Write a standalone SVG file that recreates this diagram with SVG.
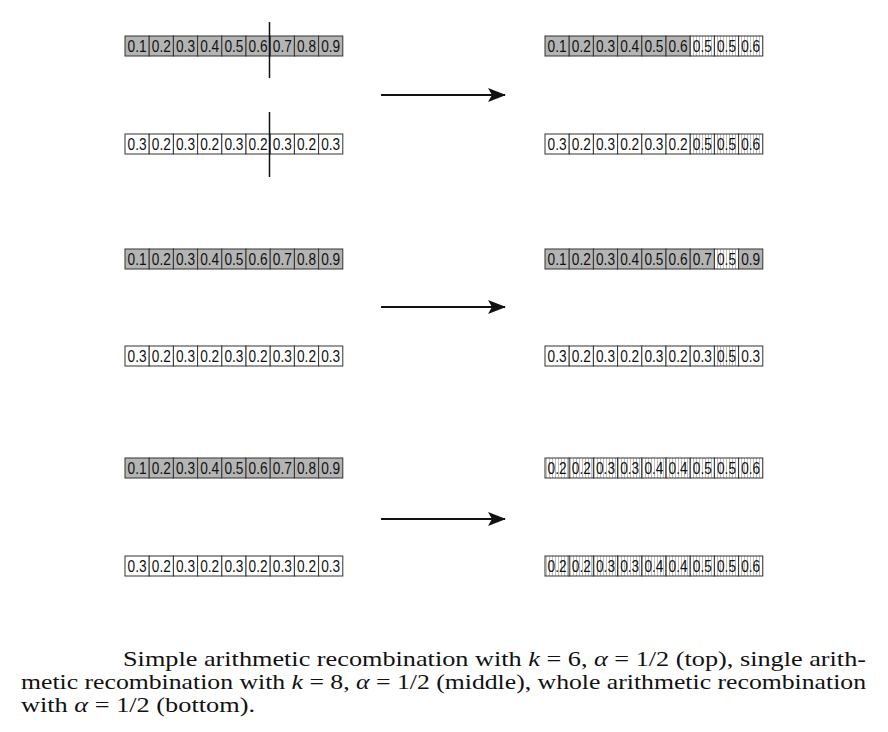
<svg xmlns="http://www.w3.org/2000/svg" width="888" height="732" viewBox="0 0 888 732">
<style>
.c{stroke:#333;stroke-width:1}
.g{fill:#b4b4b4}
.w{fill:#fff}
.h{fill:url(#hatch)}
.t{font-family:"Liberation Sans",Arial,sans-serif;font-size:16px;text-anchor:middle;fill:#111}
.cut{stroke:#111;stroke-width:1.5}
.arr{stroke:#111;stroke-width:2.2;fill:none}
.cap{font-family:"Liberation Serif","DejaVu Serif",serif;font-size:21px;fill:#111}
.m{font-style:italic}
</style>
<defs>
<pattern id="hatch" patternUnits="userSpaceOnUse" width="3" height="10">
<rect width="3" height="10" fill="#fff"/>
<line x1="1.5" y1="0" x2="1.5" y2="10" stroke="#b0b0b0" stroke-width="0.8"/>
</pattern>
<marker id="ah" markerWidth="18" markerHeight="14" refX="17" refY="7" orient="auto" markerUnits="userSpaceOnUse">
<path d="M0,0 L18,7 L0,14 L4,7 Z" fill="#111"/>
</marker>
</defs>
<rect width="888" height="732" fill="#fff"/>

<!-- TOP -->
<g id="r1-left" transform="translate(125,36)">
<rect class="c g" x="0" y="0" width="24.2" height="20"/><rect class="c g" x="24.2" y="0" width="24.2" height="20"/><rect class="c g" x="48.4" y="0" width="24.2" height="20"/><rect class="c g" x="72.6" y="0" width="24.2" height="20"/><rect class="c g" x="96.8" y="0" width="24.2" height="20"/><rect class="c g" x="121" y="0" width="24.2" height="20"/><rect class="c g" x="145.2" y="0" width="24.2" height="20"/><rect class="c g" x="169.4" y="0" width="24.2" height="20"/><rect class="c g" x="193.6" y="0" width="24.2" height="20"/>
<text class="t" x="12.1" y="15.8" textLength="19" lengthAdjust="spacingAndGlyphs">0.1</text>
<text class="t" x="36.3" y="15.8" textLength="19" lengthAdjust="spacingAndGlyphs">0.2</text>
<text class="t" x="60.5" y="15.8" textLength="19" lengthAdjust="spacingAndGlyphs">0.3</text>
<text class="t" x="84.7" y="15.8" textLength="19" lengthAdjust="spacingAndGlyphs">0.4</text>
<text class="t" x="108.9" y="15.8" textLength="19" lengthAdjust="spacingAndGlyphs">0.5</text>
<text class="t" x="133.1" y="15.8" textLength="19" lengthAdjust="spacingAndGlyphs">0.6</text>
<text class="t" x="157.3" y="15.8" textLength="19" lengthAdjust="spacingAndGlyphs">0.7</text>
<text class="t" x="181.5" y="15.8" textLength="19" lengthAdjust="spacingAndGlyphs">0.8</text>
<text class="t" x="205.7" y="15.8" textLength="19" lengthAdjust="spacingAndGlyphs">0.9</text>
</g>
<g id="r2-left" transform="translate(125,134)">
<rect class="c w" x="0" y="0" width="24.2" height="20"/><rect class="c w" x="24.2" y="0" width="24.2" height="20"/><rect class="c w" x="48.4" y="0" width="24.2" height="20"/><rect class="c w" x="72.6" y="0" width="24.2" height="20"/><rect class="c w" x="96.8" y="0" width="24.2" height="20"/><rect class="c w" x="121" y="0" width="24.2" height="20"/><rect class="c w" x="145.2" y="0" width="24.2" height="20"/><rect class="c w" x="169.4" y="0" width="24.2" height="20"/><rect class="c w" x="193.6" y="0" width="24.2" height="20"/>
<text class="t" x="12.1" y="15.8" textLength="19" lengthAdjust="spacingAndGlyphs">0.3</text>
<text class="t" x="36.3" y="15.8" textLength="19" lengthAdjust="spacingAndGlyphs">0.2</text>
<text class="t" x="60.5" y="15.8" textLength="19" lengthAdjust="spacingAndGlyphs">0.3</text>
<text class="t" x="84.7" y="15.8" textLength="19" lengthAdjust="spacingAndGlyphs">0.2</text>
<text class="t" x="108.9" y="15.8" textLength="19" lengthAdjust="spacingAndGlyphs">0.3</text>
<text class="t" x="133.1" y="15.8" textLength="19" lengthAdjust="spacingAndGlyphs">0.2</text>
<text class="t" x="157.3" y="15.8" textLength="19" lengthAdjust="spacingAndGlyphs">0.3</text>
<text class="t" x="181.5" y="15.8" textLength="19" lengthAdjust="spacingAndGlyphs">0.2</text>
<text class="t" x="205.7" y="15.8" textLength="19" lengthAdjust="spacingAndGlyphs">0.3</text>
</g>
<g id="r1-right" transform="translate(545,36)">
<rect class="c g" x="0" y="0" width="24.2" height="20"/><rect class="c g" x="24.2" y="0" width="24.2" height="20"/><rect class="c g" x="48.4" y="0" width="24.2" height="20"/><rect class="c g" x="72.6" y="0" width="24.2" height="20"/><rect class="c g" x="96.8" y="0" width="24.2" height="20"/><rect class="c g" x="121" y="0" width="24.2" height="20"/><rect class="c h" x="145.2" y="0" width="24.2" height="20"/><rect class="c h" x="169.4" y="0" width="24.2" height="20"/><rect class="c h" x="193.6" y="0" width="24.2" height="20"/>
<text class="t" x="12.1" y="15.8" textLength="19" lengthAdjust="spacingAndGlyphs">0.1</text>
<text class="t" x="36.3" y="15.8" textLength="19" lengthAdjust="spacingAndGlyphs">0.2</text>
<text class="t" x="60.5" y="15.8" textLength="19" lengthAdjust="spacingAndGlyphs">0.3</text>
<text class="t" x="84.7" y="15.8" textLength="19" lengthAdjust="spacingAndGlyphs">0.4</text>
<text class="t" x="108.9" y="15.8" textLength="19" lengthAdjust="spacingAndGlyphs">0.5</text>
<text class="t" x="133.1" y="15.8" textLength="19" lengthAdjust="spacingAndGlyphs">0.6</text>
<text class="t" x="157.3" y="15.8" textLength="19" lengthAdjust="spacingAndGlyphs">0.5</text>
<text class="t" x="181.5" y="15.8" textLength="19" lengthAdjust="spacingAndGlyphs">0.5</text>
<text class="t" x="205.7" y="15.8" textLength="19" lengthAdjust="spacingAndGlyphs">0.6</text>
</g>
<g id="r2-right" transform="translate(545,134)">
<rect class="c w" x="0" y="0" width="24.2" height="20"/><rect class="c w" x="24.2" y="0" width="24.2" height="20"/><rect class="c w" x="48.4" y="0" width="24.2" height="20"/><rect class="c w" x="72.6" y="0" width="24.2" height="20"/><rect class="c w" x="96.8" y="0" width="24.2" height="20"/><rect class="c w" x="121" y="0" width="24.2" height="20"/><rect class="c h" x="145.2" y="0" width="24.2" height="20"/><rect class="c h" x="169.4" y="0" width="24.2" height="20"/><rect class="c h" x="193.6" y="0" width="24.2" height="20"/>
<text class="t" x="12.1" y="15.8" textLength="19" lengthAdjust="spacingAndGlyphs">0.3</text>
<text class="t" x="36.3" y="15.8" textLength="19" lengthAdjust="spacingAndGlyphs">0.2</text>
<text class="t" x="60.5" y="15.8" textLength="19" lengthAdjust="spacingAndGlyphs">0.3</text>
<text class="t" x="84.7" y="15.8" textLength="19" lengthAdjust="spacingAndGlyphs">0.2</text>
<text class="t" x="108.9" y="15.8" textLength="19" lengthAdjust="spacingAndGlyphs">0.3</text>
<text class="t" x="133.1" y="15.8" textLength="19" lengthAdjust="spacingAndGlyphs">0.2</text>
<text class="t" x="157.3" y="15.8" textLength="19" lengthAdjust="spacingAndGlyphs">0.5</text>
<text class="t" x="181.5" y="15.8" textLength="19" lengthAdjust="spacingAndGlyphs">0.5</text>
<text class="t" x="205.7" y="15.8" textLength="19" lengthAdjust="spacingAndGlyphs">0.6</text>
</g>

<!-- MIDDLE -->
<g id="r3-left" transform="translate(125,249)">
<rect class="c g" x="0" y="0" width="24.2" height="20"/><rect class="c g" x="24.2" y="0" width="24.2" height="20"/><rect class="c g" x="48.4" y="0" width="24.2" height="20"/><rect class="c g" x="72.6" y="0" width="24.2" height="20"/><rect class="c g" x="96.8" y="0" width="24.2" height="20"/><rect class="c g" x="121" y="0" width="24.2" height="20"/><rect class="c g" x="145.2" y="0" width="24.2" height="20"/><rect class="c g" x="169.4" y="0" width="24.2" height="20"/><rect class="c g" x="193.6" y="0" width="24.2" height="20"/>
<text class="t" x="12.1" y="15.8" textLength="19" lengthAdjust="spacingAndGlyphs">0.1</text>
<text class="t" x="36.3" y="15.8" textLength="19" lengthAdjust="spacingAndGlyphs">0.2</text>
<text class="t" x="60.5" y="15.8" textLength="19" lengthAdjust="spacingAndGlyphs">0.3</text>
<text class="t" x="84.7" y="15.8" textLength="19" lengthAdjust="spacingAndGlyphs">0.4</text>
<text class="t" x="108.9" y="15.8" textLength="19" lengthAdjust="spacingAndGlyphs">0.5</text>
<text class="t" x="133.1" y="15.8" textLength="19" lengthAdjust="spacingAndGlyphs">0.6</text>
<text class="t" x="157.3" y="15.8" textLength="19" lengthAdjust="spacingAndGlyphs">0.7</text>
<text class="t" x="181.5" y="15.8" textLength="19" lengthAdjust="spacingAndGlyphs">0.8</text>
<text class="t" x="205.7" y="15.8" textLength="19" lengthAdjust="spacingAndGlyphs">0.9</text>
</g>
<g id="r4-left" transform="translate(125,346)">
<rect class="c w" x="0" y="0" width="24.2" height="20"/><rect class="c w" x="24.2" y="0" width="24.2" height="20"/><rect class="c w" x="48.4" y="0" width="24.2" height="20"/><rect class="c w" x="72.6" y="0" width="24.2" height="20"/><rect class="c w" x="96.8" y="0" width="24.2" height="20"/><rect class="c w" x="121" y="0" width="24.2" height="20"/><rect class="c w" x="145.2" y="0" width="24.2" height="20"/><rect class="c w" x="169.4" y="0" width="24.2" height="20"/><rect class="c w" x="193.6" y="0" width="24.2" height="20"/>
<text class="t" x="12.1" y="15.8" textLength="19" lengthAdjust="spacingAndGlyphs">0.3</text>
<text class="t" x="36.3" y="15.8" textLength="19" lengthAdjust="spacingAndGlyphs">0.2</text>
<text class="t" x="60.5" y="15.8" textLength="19" lengthAdjust="spacingAndGlyphs">0.3</text>
<text class="t" x="84.7" y="15.8" textLength="19" lengthAdjust="spacingAndGlyphs">0.2</text>
<text class="t" x="108.9" y="15.8" textLength="19" lengthAdjust="spacingAndGlyphs">0.3</text>
<text class="t" x="133.1" y="15.8" textLength="19" lengthAdjust="spacingAndGlyphs">0.2</text>
<text class="t" x="157.3" y="15.8" textLength="19" lengthAdjust="spacingAndGlyphs">0.3</text>
<text class="t" x="181.5" y="15.8" textLength="19" lengthAdjust="spacingAndGlyphs">0.2</text>
<text class="t" x="205.7" y="15.8" textLength="19" lengthAdjust="spacingAndGlyphs">0.3</text>
</g>
<g id="r3-right" transform="translate(545,249)">
<rect class="c g" x="0" y="0" width="24.2" height="20"/><rect class="c g" x="24.2" y="0" width="24.2" height="20"/><rect class="c g" x="48.4" y="0" width="24.2" height="20"/><rect class="c g" x="72.6" y="0" width="24.2" height="20"/><rect class="c g" x="96.8" y="0" width="24.2" height="20"/><rect class="c g" x="121" y="0" width="24.2" height="20"/><rect class="c g" x="145.2" y="0" width="24.2" height="20"/><rect class="c h" x="169.4" y="0" width="24.2" height="20"/><rect class="c g" x="193.6" y="0" width="24.2" height="20"/>
<text class="t" x="12.1" y="15.8" textLength="19" lengthAdjust="spacingAndGlyphs">0.1</text>
<text class="t" x="36.3" y="15.8" textLength="19" lengthAdjust="spacingAndGlyphs">0.2</text>
<text class="t" x="60.5" y="15.8" textLength="19" lengthAdjust="spacingAndGlyphs">0.3</text>
<text class="t" x="84.7" y="15.8" textLength="19" lengthAdjust="spacingAndGlyphs">0.4</text>
<text class="t" x="108.9" y="15.8" textLength="19" lengthAdjust="spacingAndGlyphs">0.5</text>
<text class="t" x="133.1" y="15.8" textLength="19" lengthAdjust="spacingAndGlyphs">0.6</text>
<text class="t" x="157.3" y="15.8" textLength="19" lengthAdjust="spacingAndGlyphs">0.7</text>
<text class="t" x="181.5" y="15.8" textLength="19" lengthAdjust="spacingAndGlyphs">0.5</text>
<text class="t" x="205.7" y="15.8" textLength="19" lengthAdjust="spacingAndGlyphs">0.9</text>
</g>
<g id="r4-right" transform="translate(545,346)">
<rect class="c w" x="0" y="0" width="24.2" height="20"/><rect class="c w" x="24.2" y="0" width="24.2" height="20"/><rect class="c w" x="48.4" y="0" width="24.2" height="20"/><rect class="c w" x="72.6" y="0" width="24.2" height="20"/><rect class="c w" x="96.8" y="0" width="24.2" height="20"/><rect class="c w" x="121" y="0" width="24.2" height="20"/><rect class="c w" x="145.2" y="0" width="24.2" height="20"/><rect class="c h" x="169.4" y="0" width="24.2" height="20"/><rect class="c w" x="193.6" y="0" width="24.2" height="20"/>
<text class="t" x="12.1" y="15.8" textLength="19" lengthAdjust="spacingAndGlyphs">0.3</text>
<text class="t" x="36.3" y="15.8" textLength="19" lengthAdjust="spacingAndGlyphs">0.2</text>
<text class="t" x="60.5" y="15.8" textLength="19" lengthAdjust="spacingAndGlyphs">0.3</text>
<text class="t" x="84.7" y="15.8" textLength="19" lengthAdjust="spacingAndGlyphs">0.2</text>
<text class="t" x="108.9" y="15.8" textLength="19" lengthAdjust="spacingAndGlyphs">0.3</text>
<text class="t" x="133.1" y="15.8" textLength="19" lengthAdjust="spacingAndGlyphs">0.2</text>
<text class="t" x="157.3" y="15.8" textLength="19" lengthAdjust="spacingAndGlyphs">0.3</text>
<text class="t" x="181.5" y="15.8" textLength="19" lengthAdjust="spacingAndGlyphs">0.5</text>
<text class="t" x="205.7" y="15.8" textLength="19" lengthAdjust="spacingAndGlyphs">0.3</text>
</g>

<!-- BOTTOM -->
<g id="r5-left" transform="translate(125,458)">
<rect class="c g" x="0" y="0" width="24.2" height="20"/><rect class="c g" x="24.2" y="0" width="24.2" height="20"/><rect class="c g" x="48.4" y="0" width="24.2" height="20"/><rect class="c g" x="72.6" y="0" width="24.2" height="20"/><rect class="c g" x="96.8" y="0" width="24.2" height="20"/><rect class="c g" x="121" y="0" width="24.2" height="20"/><rect class="c g" x="145.2" y="0" width="24.2" height="20"/><rect class="c g" x="169.4" y="0" width="24.2" height="20"/><rect class="c g" x="193.6" y="0" width="24.2" height="20"/>
<text class="t" x="12.1" y="15.8" textLength="19" lengthAdjust="spacingAndGlyphs">0.1</text>
<text class="t" x="36.3" y="15.8" textLength="19" lengthAdjust="spacingAndGlyphs">0.2</text>
<text class="t" x="60.5" y="15.8" textLength="19" lengthAdjust="spacingAndGlyphs">0.3</text>
<text class="t" x="84.7" y="15.8" textLength="19" lengthAdjust="spacingAndGlyphs">0.4</text>
<text class="t" x="108.9" y="15.8" textLength="19" lengthAdjust="spacingAndGlyphs">0.5</text>
<text class="t" x="133.1" y="15.8" textLength="19" lengthAdjust="spacingAndGlyphs">0.6</text>
<text class="t" x="157.3" y="15.8" textLength="19" lengthAdjust="spacingAndGlyphs">0.7</text>
<text class="t" x="181.5" y="15.8" textLength="19" lengthAdjust="spacingAndGlyphs">0.8</text>
<text class="t" x="205.7" y="15.8" textLength="19" lengthAdjust="spacingAndGlyphs">0.9</text>
</g>
<g id="r6-left" transform="translate(125,556)">
<rect class="c w" x="0" y="0" width="24.2" height="20"/><rect class="c w" x="24.2" y="0" width="24.2" height="20"/><rect class="c w" x="48.4" y="0" width="24.2" height="20"/><rect class="c w" x="72.6" y="0" width="24.2" height="20"/><rect class="c w" x="96.8" y="0" width="24.2" height="20"/><rect class="c w" x="121" y="0" width="24.2" height="20"/><rect class="c w" x="145.2" y="0" width="24.2" height="20"/><rect class="c w" x="169.4" y="0" width="24.2" height="20"/><rect class="c w" x="193.6" y="0" width="24.2" height="20"/>
<text class="t" x="12.1" y="15.8" textLength="19" lengthAdjust="spacingAndGlyphs">0.3</text>
<text class="t" x="36.3" y="15.8" textLength="19" lengthAdjust="spacingAndGlyphs">0.2</text>
<text class="t" x="60.5" y="15.8" textLength="19" lengthAdjust="spacingAndGlyphs">0.3</text>
<text class="t" x="84.7" y="15.8" textLength="19" lengthAdjust="spacingAndGlyphs">0.2</text>
<text class="t" x="108.9" y="15.8" textLength="19" lengthAdjust="spacingAndGlyphs">0.3</text>
<text class="t" x="133.1" y="15.8" textLength="19" lengthAdjust="spacingAndGlyphs">0.2</text>
<text class="t" x="157.3" y="15.8" textLength="19" lengthAdjust="spacingAndGlyphs">0.3</text>
<text class="t" x="181.5" y="15.8" textLength="19" lengthAdjust="spacingAndGlyphs">0.2</text>
<text class="t" x="205.7" y="15.8" textLength="19" lengthAdjust="spacingAndGlyphs">0.3</text>
</g>
<g id="r5-right" transform="translate(545,458)">
<rect class="c h" x="0" y="0" width="24.2" height="20"/><rect class="c h" x="24.2" y="0" width="24.2" height="20"/><rect class="c h" x="48.4" y="0" width="24.2" height="20"/><rect class="c h" x="72.6" y="0" width="24.2" height="20"/><rect class="c h" x="96.8" y="0" width="24.2" height="20"/><rect class="c h" x="121" y="0" width="24.2" height="20"/><rect class="c h" x="145.2" y="0" width="24.2" height="20"/><rect class="c h" x="169.4" y="0" width="24.2" height="20"/><rect class="c h" x="193.6" y="0" width="24.2" height="20"/>
<text class="t" x="12.1" y="15.8" textLength="19" lengthAdjust="spacingAndGlyphs">0.2</text>
<text class="t" x="36.3" y="15.8" textLength="19" lengthAdjust="spacingAndGlyphs">0.2</text>
<text class="t" x="60.5" y="15.8" textLength="19" lengthAdjust="spacingAndGlyphs">0.3</text>
<text class="t" x="84.7" y="15.8" textLength="19" lengthAdjust="spacingAndGlyphs">0.3</text>
<text class="t" x="108.9" y="15.8" textLength="19" lengthAdjust="spacingAndGlyphs">0.4</text>
<text class="t" x="133.1" y="15.8" textLength="19" lengthAdjust="spacingAndGlyphs">0.4</text>
<text class="t" x="157.3" y="15.8" textLength="19" lengthAdjust="spacingAndGlyphs">0.5</text>
<text class="t" x="181.5" y="15.8" textLength="19" lengthAdjust="spacingAndGlyphs">0.5</text>
<text class="t" x="205.7" y="15.8" textLength="19" lengthAdjust="spacingAndGlyphs">0.6</text>
</g>
<g id="r6-right" transform="translate(545,556)">
<rect class="c h" x="0" y="0" width="24.2" height="20"/><rect class="c h" x="24.2" y="0" width="24.2" height="20"/><rect class="c h" x="48.4" y="0" width="24.2" height="20"/><rect class="c h" x="72.6" y="0" width="24.2" height="20"/><rect class="c h" x="96.8" y="0" width="24.2" height="20"/><rect class="c h" x="121" y="0" width="24.2" height="20"/><rect class="c h" x="145.2" y="0" width="24.2" height="20"/><rect class="c h" x="169.4" y="0" width="24.2" height="20"/><rect class="c h" x="193.6" y="0" width="24.2" height="20"/>
<text class="t" x="12.1" y="15.8" textLength="19" lengthAdjust="spacingAndGlyphs">0.2</text>
<text class="t" x="36.3" y="15.8" textLength="19" lengthAdjust="spacingAndGlyphs">0.2</text>
<text class="t" x="60.5" y="15.8" textLength="19" lengthAdjust="spacingAndGlyphs">0.3</text>
<text class="t" x="84.7" y="15.8" textLength="19" lengthAdjust="spacingAndGlyphs">0.3</text>
<text class="t" x="108.9" y="15.8" textLength="19" lengthAdjust="spacingAndGlyphs">0.4</text>
<text class="t" x="133.1" y="15.8" textLength="19" lengthAdjust="spacingAndGlyphs">0.4</text>
<text class="t" x="157.3" y="15.8" textLength="19" lengthAdjust="spacingAndGlyphs">0.5</text>
<text class="t" x="181.5" y="15.8" textLength="19" lengthAdjust="spacingAndGlyphs">0.5</text>
<text class="t" x="205.7" y="15.8" textLength="19" lengthAdjust="spacingAndGlyphs">0.6</text>
</g>

<g id="cut-lines">
<line class="cut" x1="269.5" y1="22" x2="269.5" y2="78"/>
<line class="cut" x1="269.5" y1="112" x2="269.5" y2="177"/>
</g>

<g id="connectors">
<line class="arr" x1="381" y1="95" x2="505" y2="95" marker-end="url(#ah)"/>
<line class="arr" x1="381" y1="307" x2="505" y2="307" marker-end="url(#ah)"/>
<line class="arr" x1="381" y1="519" x2="505" y2="519" marker-end="url(#ah)"/>
</g>

<g id="caption">
<text class="cap" x="123" y="666" textLength="743" lengthAdjust="spacingAndGlyphs">Simple arithmetic recombination with <tspan class="m">k</tspan> = 6, <tspan class="m">α</tspan> = 1/2 (top), single arith-</text>
<text class="cap" x="21" y="689" textLength="845" lengthAdjust="spacingAndGlyphs">metic recombination with <tspan class="m">k</tspan> = 8, <tspan class="m">α</tspan> = 1/2 (middle), whole arithmetic recombination</text>
<text class="cap" x="21" y="712" textLength="234" lengthAdjust="spacingAndGlyphs">with <tspan class="m">α</tspan> = 1/2 (bottom).</text>
</g>
</svg>
